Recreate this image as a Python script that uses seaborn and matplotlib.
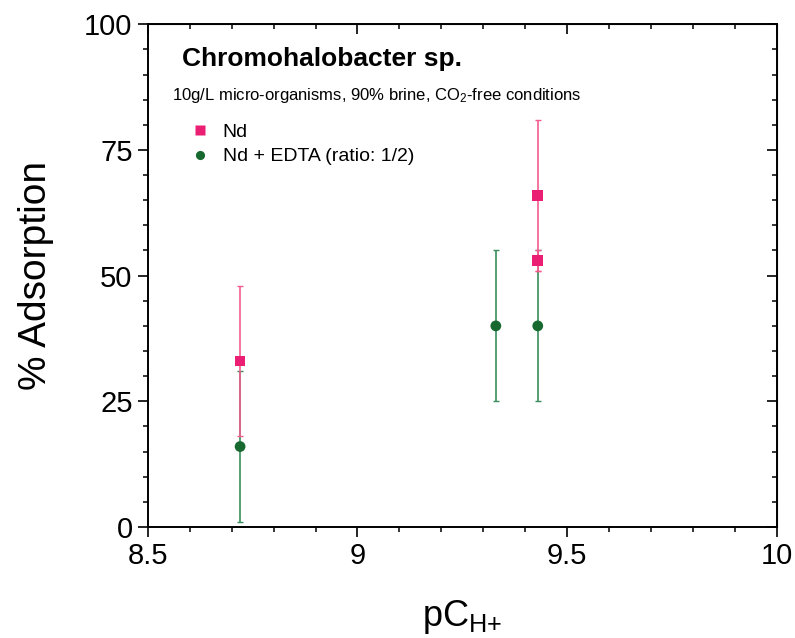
import numpy as np
import pandas as pd
import seaborn as sns
import matplotlib.pyplot as plt
from matplotlib.ticker import MultipleLocator, FormatStrFormatter

# valeurs
nd_ph = [8.72, 9.43, 9.43]
nd_ads = [33, 66, 53]
nd_err = [15, 15, 2]

edta_ph = [8.72, 9.33, 9.43]
edta_ads = [16, 40, 40]
edta_err = [15, 15, 15]

series_names = ['Nd', 'Nd + EDTA (ratio: 1/2)']

sns.set_style('ticks')
plt.rcParams['font.family'] = ['Liberation Sans', 'DejaVu Sans']
plt.rcParams['mathtext.fontset'] = 'custom'
plt.rcParams['mathtext.rm'] = 'Liberation Sans'
plt.rcParams['mathtext.it'] = 'Liberation Sans'
plt.rcParams['text.color'] = 'black'
plt.rcParams['axes.labelcolor'] = 'black'
plt.rcParams['xtick.color'] = 'black'
plt.rcParams['ytick.color'] = 'black'

pink = '#ea1f73'
pink_err = '#f25d8e'
green = '#17692f'
green_err = '#3a8d5c'

df = pd.DataFrame({
    'pH': nd_ph + edta_ph,
    'ads': nd_ads + edta_ads,
    'serie': [series_names[0]] * len(nd_ph) + [series_names[1]] * len(edta_ph),
})

fig = plt.figure(figsize=(7.95, 6.38), dpi=100)
ax = fig.add_axes([0.186, 0.174, 0.791, 0.788])

ax.errorbar(nd_ph, nd_ads, yerr=nd_err, fmt='none', ecolor=pink_err,
            elinewidth=1.2, capsize=2.5, capthick=1, zorder=2)
ax.errorbar(edta_ph, edta_ads, yerr=edta_err, fmt='none', ecolor=green_err,
            elinewidth=1.2, capsize=2.5, capthick=1, zorder=1)

sns.scatterplot(data=df, x='pH', y='ads', hue='serie', style='serie',
                palette={series_names[0]: pink, series_names[1]: green},
                markers={series_names[0]: 's', series_names[1]: 'o'},
                s=60, edgecolor='none', ax=ax, zorder=3)

ax.set_xlim(8.5, 10)
ax.set_ylim(0, 100)
ax.xaxis.set_major_locator(MultipleLocator(0.5))
ax.xaxis.set_minor_locator(MultipleLocator(0.1))
ax.yaxis.set_major_locator(MultipleLocator(25))
ax.yaxis.set_minor_locator(MultipleLocator(5))
ax.xaxis.set_major_formatter(FormatStrFormatter('%g'))
ax.tick_params(which='major', direction='out', length=7, width=1.2, labelsize=21, pad=4)
ax.tick_params(which='minor', direction='out', length=3.5, width=1.1)
for sp in ax.spines.values():
    sp.set_linewidth(1.4)
    sp.set_color('black')
    sp.set_visible(True)

# ticks vers l'interieur en haut et a droite
top = ax.secondary_xaxis('top')
top.xaxis.set_major_locator(MultipleLocator(0.5))
top.xaxis.set_minor_locator(MultipleLocator(0.1))
top.tick_params(which='major', direction='in', length=7, width=1.2, labeltop=False)
top.tick_params(which='minor', direction='in', length=3.5, width=1.1)
right = ax.secondary_yaxis('right')
right.yaxis.set_major_locator(MultipleLocator(25))
right.yaxis.set_minor_locator(MultipleLocator(5))
right.tick_params(which='major', direction='in', length=7, width=1.2, labelright=False)
right.tick_params(which='minor', direction='in', length=3.5, width=1.1)

ax.set_xlabel(r'pC$_{\mathregular{H{+}}}$', fontsize=26, labelpad=20)
ax.set_ylabel('% Adsorption', fontsize=28, labelpad=22)

ax.text(0.054, 0.93, 'Chromohalobacter sp.', transform=ax.transAxes,
        fontsize=19, fontweight='bold', va='center', ha='left')
ax.text(0.038, 0.859, r'10g/L micro-organisms, 90% brine, CO$_2$-free conditions',
        transform=ax.transAxes, fontsize=12, va='center', ha='left')

handles, labels = ax.get_legend_handles_labels()
ax.legend(handles, labels, loc='upper left', bbox_to_anchor=(0.067, 0.803),
          frameon=False, fontsize=14, handlelength=1.0, handletextpad=0.68,
          labelspacing=0.35, borderpad=0, borderaxespad=0, markerscale=0.85)

fig.savefig('out.png', dpi=100)
